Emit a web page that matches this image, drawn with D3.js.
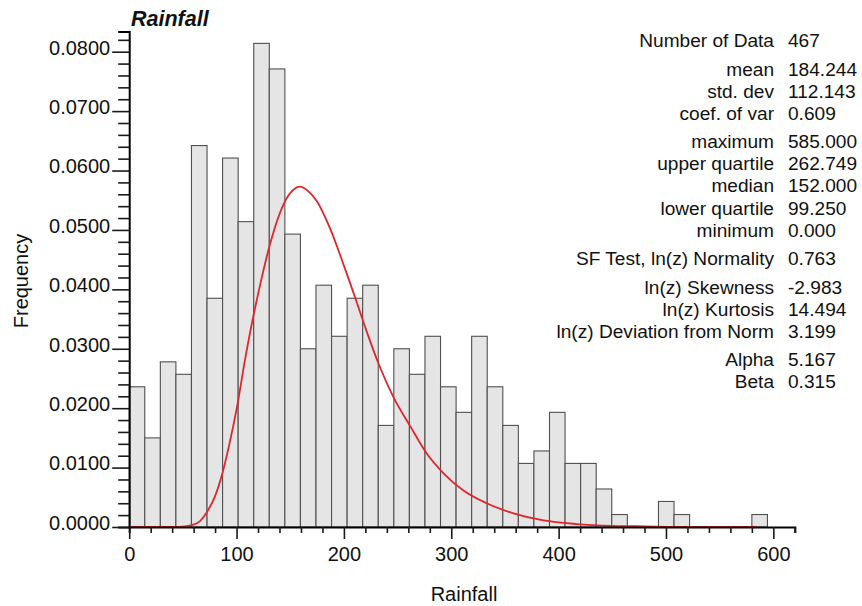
<!DOCTYPE html>
<html>
<head>
<meta charset="utf-8">
<script src="https://cdn.jsdelivr.net/npm/d3@7"></script>
<style>
  html, body { margin: 0; padding: 0; background: #fff; }
  svg { display: block; font-family: "Liberation Sans", Arial, Helvetica, sans-serif; }
</style>
</head>
<body>
<svg id="chart" width="862" height="606"></svg>
<script>
// ---------------- DATA ----------------
const binStart = 0;
const binWidth = 14.5;
const frequencies = [
  0.0236, 0.0150, 0.0278, 0.0257, 0.0642, 0.0385, 0.0621, 0.0514, 0.0814, 0.0771,
  0.0493, 0.0300, 0.0407, 0.0321, 0.0385, 0.0407, 0.0171, 0.0300, 0.0257, 0.0321,
  0.0236, 0.0193, 0.0321, 0.0236, 0.0171, 0.0107, 0.0128, 0.0193, 0.0107, 0.0107,
  0.0064, 0.0021, 0.0000, 0.0000, 0.0043, 0.0021, 0.0000, 0.0000, 0.0000, 0.0000,
  0.0021
];
// fitted curve: [rainfall, frequency]
const curveX = [0, 40, 52, 58, 66, 72, 80, 86, 93, 100, 109, 116, 123, 131, 144, 152, 159, 167, 175, 187,
  200, 212, 222, 232, 246, 262, 277, 293, 311, 333, 358, 386, 417, 450, 480, 520, 585];
const curveY = [0, 0, 0.0001, 0.0003, 0.0010, 0.0024, 0.0052, 0.0085, 0.0137, 0.0198, 0.0293, 0.0358, 0.0416, 0.0475, 0.0544, 0.0566, 0.0573, 0.0565, 0.0548, 0.0503,
  0.0440, 0.0378, 0.0325, 0.0276, 0.0219, 0.0169, 0.0124, 0.0090, 0.0062, 0.0040, 0.0023, 0.0011, 0.0005, 0.0002, 0.0001, 0, 0];

const xTickValues = d3.range(0, 621, 20);
const xLabelValues = [0, 100, 200, 300, 400, 500, 600];
const yTickValues = d3.range(0, 0.0821, 0.002);
const yLabelValues = [0, 0.01, 0.02, 0.03, 0.04, 0.05, 0.06, 0.07, 0.08];

const statLabels = ["Number of Data", "mean", "std. dev", "coef. of var", "maximum", "upper quartile", "median",
  "lower quartile", "minimum", "SF Test, ln(z) Normality", "ln(z) Skewness", "ln(z) Kurtosis",
  "ln(z) Deviation from Norm", "Alpha", "Beta"];
const statValues = ["467", "184.244", "112.143", "0.609", "585.000", "262.749", "152.000", "99.250", "0.000",
  "0.763", "-2.983", "14.494", "3.199", "5.167", "0.315"];
const statGroups = [0, 1, 1, 1, 2, 2, 2, 2, 2, 3, 4, 4, 4, 5, 5];

const chartTitle = "Rainfall";
const xTitle = "Rainfall";
const yTitle = "Frequency";

// ---------------- LAYOUT ----------------
const svg = d3.select("#chart");
const x = d3.scaleLinear().domain([0, 620]).range([129.2, 794.8]);
const y = d3.scaleLinear().domain([0, 0.0834]).range([527, 31.5]);

const isMajorY = v => yLabelValues.some(m => Math.abs(m - v) < 1e-7);
const isMajorX = v => xLabelValues.includes(Math.round(v));

// bars
const bins = frequencies.map((f, i) => ({ x0: binStart + i * binWidth, x1: binStart + (i + 1) * binWidth, f }));
svg.append("g")
  .selectAll("rect")
  .data(bins.filter(b => b.f > 0))
  .join("rect")
  .attr("x", d => x(d.x0))
  .attr("y", d => y(d.f))
  .attr("width", d => x(d.x1) - x(d.x0))
  .attr("height", d => y(0) - y(d.f))
  .attr("fill", "#e5e5e5")
  .attr("stroke", "#505050")
  .attr("stroke-width", 1.1);

// curve
const curvePts = curveX.map((v, i) => [v, curveY[i]]);
svg.append("path")
  .datum(curvePts)
  .attr("fill", "none")
  .attr("stroke", "#e0262c")
  .attr("stroke-width", 1.8)
  .attr("d", d3.line().x(d => x(d[0])).y(d => y(d[1])).curve(d3.curveMonotoneX));

// y axis
const gy = svg.append("g")
  .attr("transform", `translate(${x(0)},0)`)
  .call(d3.axisLeft(y).tickValues(yTickValues).tickSizeOuter(0).tickSize(11)
    .tickFormat(d => isMajorY(d) ? d3.format(".4f")(d) : ""));
gy.select(".domain").attr("stroke", "#000").attr("stroke-width", 2);
gy.selectAll(".tick line").attr("stroke", "#1a1a1a").attr("stroke-width", 1.6)
  .attr("x2", d => isMajorY(d) ? -17 : -11);
gy.selectAll(".tick text").attr("x", -19).attr("dy", "2.3px")
  .attr("font-size", 20).attr("fill", "#111").attr("font-family", null);

// x axis
const gx = svg.append("g")
  .attr("transform", `translate(0,${y(0)})`)
  .call(d3.axisBottom(x).tickValues(xTickValues).tickSizeOuter(0).tickSize(6)
    .tickFormat(d => isMajorX(d) ? String(d) : ""));
gx.select(".domain").attr("stroke", "#000").attr("stroke-width", 2);
gx.selectAll(".tick line").attr("stroke", "#1a1a1a").attr("stroke-width", 1.6)
  .attr("y2", d => isMajorX(d) ? 12 : 6);
gx.selectAll(".tick text").attr("y", 20).attr("dy", "0.71em")
  .attr("font-size", 20).attr("fill", "#111").attr("font-family", null);

// titles
svg.append("text").attr("x", 131).attr("y", 26)
  .attr("font-size", 21.5).attr("font-weight", "bold").attr("font-style", "italic").attr("fill", "#111")
  .text(chartTitle);
svg.append("text").attr("x", 464).attr("y", 601).attr("text-anchor", "middle")
  .attr("font-size", 20).attr("fill", "#111").text(xTitle);
svg.append("text").attr("transform", "translate(28,281) rotate(-90)").attr("text-anchor", "middle")
  .attr("font-size", 20).attr("fill", "#111").text(yTitle);

// stats
const rowStep = 22.1, groupGap = 6.4, firstBase = 47;
const gs = svg.append("g").attr("font-size", 19.1).attr("fill", "#111");
statLabels.forEach((lab, i) => {
  const yy = firstBase + i * rowStep + statGroups[i] * groupGap;
  gs.append("text").attr("x", 774).attr("y", yy).attr("text-anchor", "end").text(lab);
  gs.append("text").attr("x", 788).attr("y", yy).text(statValues[i]);
});
</script>
</body>
</html>
